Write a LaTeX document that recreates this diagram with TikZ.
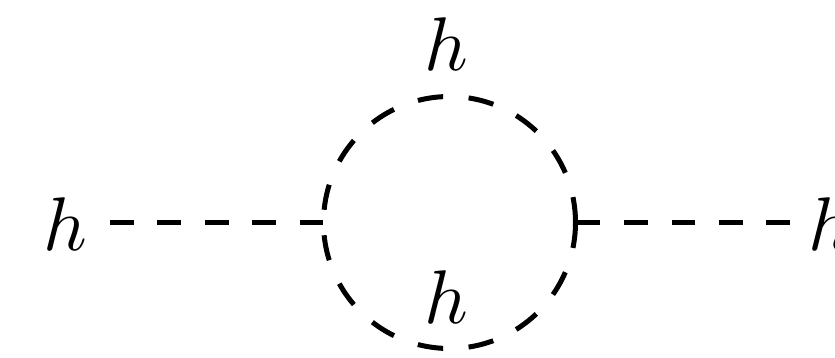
\documentclass[tikz,border=0pt]{standalone}
\tikzset{
  scalar/.style={line width=5pt, dash pattern=on 23.7pt off 23.7pt},
  loopline/.style={line width=5pt, dash pattern=on 25.54pt off 25.54pt},
  lbl/.style={inner sep=0pt, scale=7.6}
}
\begin{document}
\begin{tikzpicture}[x=1pt,y=-1pt]
\useasboundingbox (0,0) rectangle (835,357);
\coordinate (c) at (449.5,222.5);
\coordinate (v1) at (323.5,222.5);
\coordinate (v2) at (575.5,222.5);
\coordinate (e1) at (110,222.5);
\coordinate (e2) at (790,222.5);
\node[lbl, anchor=base] (hl) at (65,250) {$h$};
\node[lbl, anchor=base west] (hr) at (807,250) {$h$};
\node[lbl, anchor=base] (ht) at (446.5,70) {$h$};
\node[lbl, anchor=base] (hb) at (446.5,323) {$h$};
\draw[scalar] (e1) -- (v1);
\draw[scalar] (e2) -- (v2);
\draw[loopline] (v2) arc[start angle=0, end angle=360, radius=126pt];
\end{tikzpicture}
\end{document}
